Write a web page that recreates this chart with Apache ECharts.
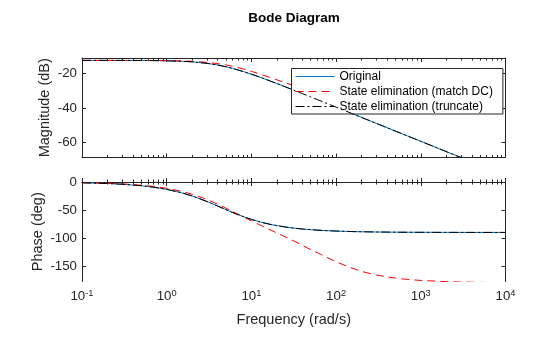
<!DOCTYPE html>
<html><head><meta charset="utf-8">
<script src="https://cdn.jsdelivr.net/npm/echarts@6/dist/echarts.min.js"></script>
<style>html,body{margin:0;padding:0;background:#fff}#c{width:560px;height:337px}</style>
</head><body><div id="c"></div>
<script>
const freq = [0.1,0.2,0.3,0.5,0.7,1,1.5,2,3,4,5,6,8,10,13,16,20,25,30,40,50,70,100,150,200,300,500,700,1000,2000,3000,5000,10000];
const magOriginal = [-12.20,-12.21,-12.22,-12.26,-12.31,-12.43,-12.70,-13.05,-13.92,-14.91,-15.92,-16.89,-18.70,-20.27,-22.26,-23.94,-25.75,-27.63,-29.17,-31.62,-33.54,-36.45,-39.54,-43.06,-45.55,-49.07,-53.51,-56.43,-59.53,-65.55,-69.07,-73.51,-79.53];
const magMatchDC = [-12.20,-12.21,-12.21,-12.24,-12.27,-12.35,-12.52,-12.76,-13.36,-14.09,-14.87,-15.66,-17.18,-18.59,-20.39,-21.89,-23.56,-25.25,-26.56,-28.55,-29.95,-31.72,-33.09,-34.03,-34.43,-34.73,-34.89,-34.94,-34.96,-34.98,-34.98,-34.98,-34.98];
const magTruncate = [-12.20,-12.21,-12.22,-12.26,-12.31,-12.43,-12.70,-13.05,-13.92,-14.91,-15.92,-16.89,-18.70,-20.27,-22.26,-23.94,-25.75,-27.63,-29.17,-31.62,-33.54,-36.45,-39.54,-43.06,-45.55,-49.07,-53.51,-56.43,-59.53,-65.55,-69.07,-73.51,-79.53];
const phaseOriginal = [-1.33,-2.66,-3.99,-6.63,-9.25,-13.09,-19.23,-24.94,-34.90,-42.93,-49.30,-54.38,-61.74,-66.73,-71.70,-74.96,-77.87,-80.24,-81.84,-83.86,-85.08,-86.48,-87.54,-88.36,-88.77,-89.18,-89.51,-89.65,-89.75,-89.88,-89.92,-89.95,-89.98];
const phaseMatchDC = [-1.14,-2.27,-3.41,-5.67,-7.93,-11.26,-16.67,-21.86,-31.35,-39.60,-46.63,-52.61,-62.10,-69.27,-77.60,-84.20,-91.00,-97.80,-103.50,-113.00,-120.50,-131.00,-142.50,-153.00,-159.50,-166.00,-171.50,-173.90,-175.60,-177.80,-178.50,-179.10,-179.50];
const phaseTruncate = [-1.33,-2.66,-3.99,-6.63,-9.25,-13.09,-19.23,-24.94,-34.90,-42.93,-49.30,-54.38,-61.74,-66.73,-71.70,-74.96,-77.87,-80.24,-81.84,-83.86,-85.08,-86.48,-87.54,-88.36,-88.77,-89.18,-89.51,-89.65,-89.75,-89.88,-89.92,-89.95,-89.98];
const seriesNames = ['Original','State elimination (match DC)','State elimination (truncate)'];
const xDecades = [0.1,1,10,100,1000,10000];
const magTicks = [-60,-40,-20];
const phaseTicks = [-150,-100,-50,0];
const magRange = [-69, -10.8];
const phaseRange = [-177.5, 0];

const minorTicks = [];
for (let i = 0; i < xDecades.length - 1; i++) for (let k = 2; k <= 9; k++) minorTicks.push(+(xDecades[i]*k).toPrecision(6));

const FONT = "'Liberation Sans', Arial, Helvetica, sans-serif";
const AX = '#262626';
const grids = [
  {left: 82, top: 58, width: 423.5, height: 99.5},
  {left: 82, top: 182, width: 423.5, height: 99.5}
];
function xAx(gi, pos, minor, labels) {
  return {
    type: 'log', logBase: 10, gridIndex: gi, position: pos, min: 0.1, max: 10000,
    axisLine: {show: !minor, lineStyle: {color: AX, width: 1}},
    axisTick: {show: true, inside: true, length: minor ? 2.5 : 4, customValues: minor ? minorTicks : xDecades, lineStyle: {color: AX, width: 1}},
    minorTick: {show: false}, splitLine: {show: false},
    axisLabel: labels ? {
      show: true, customValues: xDecades, margin: 7, color: AX, fontFamily: FONT,
      formatter: v => '{b|10}{s|' + Math.round(Math.log10(v)) + '}',
      rich: {b: {fontSize: 13.3, fontFamily: FONT, color: AX, lineHeight: 14, verticalAlign: 'bottom'},
             s: {fontSize: 9.3, fontFamily: FONT, color: AX, lineHeight: 10, verticalAlign: 'top', padding: [0,0,7,0]}}
    } : {show: false},
    name: labels ? 'Frequency (rad/s)' : '', nameLocation: 'middle', nameGap: 31, nameMoveOverlap: false,
    nameTextStyle: {fontSize: 14.5, fontFamily: FONT, color: AX}
  };
}
function yAx(gi, pos, range, ticks, name, gap) {
  const left = pos === 'left';
  return {
    type: 'value', gridIndex: gi, position: pos, min: range[0], max: range[1],
    axisLine: {show: true, lineStyle: {color: AX, width: 1}},
    axisTick: {show: true, inside: true, length: 4, customValues: ticks, lineStyle: {color: AX, width: 1}},
    splitLine: {show: false},
    axisLabel: left ? {show: true, customValues: ticks, margin: 5, fontSize: 13.3, fontFamily: FONT, color: AX} : {show: false},
    name: left ? name : '', nameLocation: 'middle', nameGap: gap, nameRotate: 90, nameMoveOverlap: false,
    nameTextStyle: {fontSize: 14.5, fontFamily: FONT, color: AX}
  };
}
const pairs = (ys) => freq.map((f, i) => [f, ys[i]]);
const styles = [
  {color: '#0072BD', width: 1, type: 'solid'},
  {color: '#FF0000', width: 1, type: [8, 5]},
  {color: '#000000', width: 1, type: [9, 3, 2, 3]}
];
const magData = [magOriginal, magMatchDC, magTruncate];
const phaseData = [phaseOriginal, phaseMatchDC, phaseTruncate];
const series = [];
magData.forEach((d, i) => series.push({name: seriesNames[i], type: 'line', xAxisIndex: 0, yAxisIndex: 0, data: pairs(d), symbol: 'none', showSymbol: false, clip: true, lineStyle: styles[i], itemStyle: {color: styles[i].color}, animation: false, silent: true, z: 2 + i}));
phaseData.forEach((d, i) => series.push({name: seriesNames[i], type: 'line', xAxisIndex: 4, yAxisIndex: 2, data: pairs(d), symbol: 'none', showSymbol: false, clip: true, lineStyle: styles[i], itemStyle: {color: styles[i].color}, animation: false, silent: true, z: 2 + i}));

const chart = echarts.init(document.getElementById('c'), null, {renderer: 'canvas'});
chart.setOption({
  animation: false,
  backgroundColor: '#fff',
  title: {text: 'Bode Diagram', left: 294, top: 11, textAlign: 'center', padding: 0,
          textStyle: {fontSize: 13.5, fontWeight: 'bold', fontFamily: FONT, color: '#000'}},
  legend: {
    data: seriesNames.map((n, i) => ({name: n, lineStyle: {color: styles[i].color, type: styles[i].type, width: 1, opacity: 1}, itemStyle: {opacity: 0, borderWidth: 0}})),
    orient: 'vertical', left: 291.5, top: 68.5, itemWidth: 39, itemHeight: 12, itemGap: 3,
    padding: [2, 10, 1.5, 3.5], backgroundColor: '#fff', borderColor: AX, borderWidth: 1, borderRadius: 0,
    textStyle: {fontSize: 12, fontFamily: FONT, color: '#000'}, selectedMode: false
  },
  grid: grids,
  xAxis: [xAx(0,'bottom',false,false), xAx(0,'bottom',true,false), xAx(0,'top',false,false), xAx(0,'top',true,false),
          xAx(1,'bottom',false,true), xAx(1,'bottom',true,false), xAx(1,'top',false,false), xAx(1,'top',true,false)],
  yAxis: [yAx(0,'left',magRange,magTicks,'Magnitude (dB)',29.5), yAx(0,'right',magRange,magTicks,'',0),
          yAx(1,'left',phaseRange,phaseTicks,'Phase (deg)',36.5), yAx(1,'right',phaseRange,phaseTicks,'',0)],
  series: series
});
</script></body></html>
